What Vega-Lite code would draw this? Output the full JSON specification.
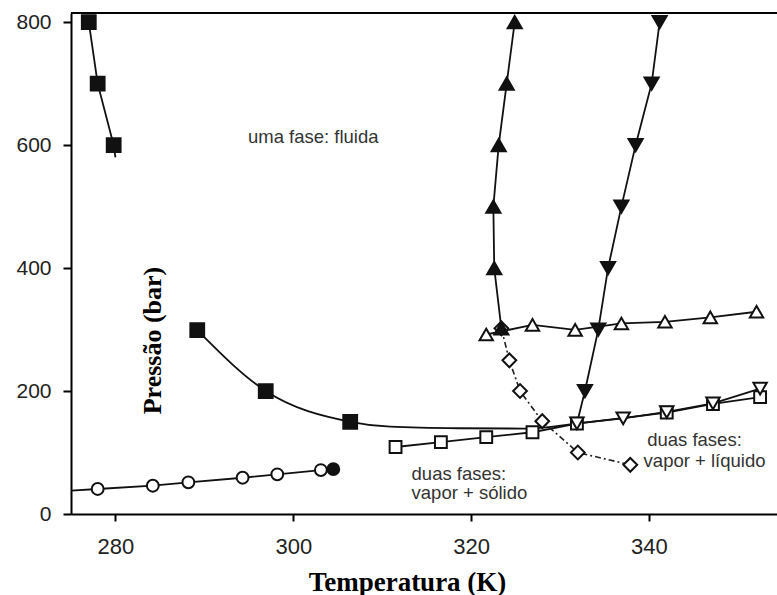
{
  "$schema": "https://vega.github.io/schema/vega-lite/v6.json",
  "width": 706,
  "height": 501,
  "autosize": {"type": "none"},
  "padding": {"left": 71, "top": 13, "right": 0, "bottom": 81},
  "background": "white",
  "config": {
    "view": {"stroke": null},
    "axis": {"grid": false},
    "point": {"filled": true, "opacity": 1, "stroke": "#111", "strokeWidth": 2}
  },
  "datasets": {
    "tracados": [
      {"serie": "q_cheio_a", "T": 277.0, "P": 800},
      {"serie": "q_cheio_a", "T": 278.0, "P": 700},
      {"serie": "q_cheio_a", "T": 279.8, "P": 600},
      {"serie": "q_cheio_a", "T": 280.0, "P": 580},
      {"serie": "curva", "T": 289.2, "P": 299},
      {"serie": "curva", "T": 296.9, "P": 200},
      {"serie": "curva", "T": 306.4, "P": 150},
      {"serie": "curva", "T": 310.9, "P": 142},
      {"serie": "curva", "T": 318.6, "P": 139.5},
      {"serie": "curva", "T": 326.0, "P": 139},
      {"serie": "curva", "T": 331.9, "P": 147.5},
      {"serie": "c_aberto", "T": 275.0, "P": 38},
      {"serie": "c_aberto", "T": 278.0, "P": 40.7},
      {"serie": "c_aberto", "T": 284.2, "P": 46},
      {"serie": "c_aberto", "T": 288.2, "P": 51.5},
      {"serie": "c_aberto", "T": 294.3, "P": 59},
      {"serie": "c_aberto", "T": 298.2, "P": 64.5},
      {"serie": "c_aberto", "T": 303.1, "P": 71.5},
      {"serie": "c_aberto", "T": 304.5, "P": 73},
      {"serie": "q_aberto", "T": 311.5, "P": 109},
      {"serie": "q_aberto", "T": 316.6, "P": 117},
      {"serie": "q_aberto", "T": 321.7, "P": 125},
      {"serie": "q_aberto", "T": 326.9, "P": 133},
      {"serie": "q_aberto", "T": 331.9, "P": 147},
      {"serie": "q_aberto", "T": 342.0, "P": 165},
      {"serie": "q_aberto", "T": 347.2, "P": 179},
      {"serie": "q_aberto", "T": 352.5, "P": 190},
      {"serie": "t_cheio", "T": 324.9, "P": 800},
      {"serie": "t_cheio", "T": 324.0, "P": 700},
      {"serie": "t_cheio", "T": 323.1, "P": 600},
      {"serie": "t_cheio", "T": 322.5, "P": 500},
      {"serie": "t_cheio", "T": 322.6, "P": 400},
      {"serie": "t_cheio", "T": 323.4, "P": 302},
      {"serie": "tinv_cheio", "T": 341.2, "P": 800},
      {"serie": "tinv_cheio", "T": 340.3, "P": 700},
      {"serie": "tinv_cheio", "T": 338.5, "P": 600},
      {"serie": "tinv_cheio", "T": 336.9, "P": 500},
      {"serie": "tinv_cheio", "T": 335.4, "P": 400},
      {"serie": "tinv_cheio", "T": 334.3, "P": 300},
      {"serie": "tinv_cheio", "T": 332.8, "P": 200},
      {"serie": "tinv_cheio", "T": 331.9, "P": 147.5},
      {"serie": "t_aberto", "T": 321.7, "P": 292},
      {"serie": "t_aberto", "T": 326.9, "P": 307.6},
      {"serie": "t_aberto", "T": 331.7, "P": 299.5},
      {"serie": "t_aberto", "T": 336.9, "P": 310},
      {"serie": "t_aberto", "T": 341.8, "P": 312.7},
      {"serie": "t_aberto", "T": 346.9, "P": 319.8},
      {"serie": "t_aberto", "T": 352.1, "P": 329},
      {"serie": "tinv_aberto", "T": 331.9, "P": 147.5},
      {"serie": "tinv_aberto", "T": 337.1, "P": 155.6},
      {"serie": "tinv_aberto", "T": 342.0, "P": 166},
      {"serie": "tinv_aberto", "T": 347.2, "P": 180},
      {"serie": "tinv_aberto", "T": 352.5, "P": 204},
      {"serie": "losango", "T": 323.4, "P": 302},
      {"serie": "losango", "T": 324.3, "P": 250},
      {"serie": "losango", "T": 325.5, "P": 200},
      {"serie": "losango", "T": 328.0, "P": 151},
      {"serie": "losango", "T": 332.0, "P": 100},
      {"serie": "losango", "T": 337.9, "P": 80}
    ],
    "pontos": [
      {"serie": "losango", "T": 323.4, "P": 302},
      {"serie": "losango", "T": 324.3, "P": 250},
      {"serie": "losango", "T": 325.5, "P": 200},
      {"serie": "losango", "T": 328.0, "P": 151},
      {"serie": "losango", "T": 332.0, "P": 100},
      {"serie": "losango", "T": 337.9, "P": 80},
      {"serie": "q_cheio", "T": 277.0, "P": 800},
      {"serie": "q_cheio", "T": 278.0, "P": 700},
      {"serie": "q_cheio", "T": 279.8, "P": 600},
      {"serie": "q_cheio", "T": 289.2, "P": 299},
      {"serie": "q_cheio", "T": 296.9, "P": 200},
      {"serie": "q_cheio", "T": 306.4, "P": 150},
      {"serie": "c_aberto", "T": 278.0, "P": 40.7},
      {"serie": "c_aberto", "T": 284.2, "P": 46},
      {"serie": "c_aberto", "T": 288.2, "P": 51.5},
      {"serie": "c_aberto", "T": 294.3, "P": 59},
      {"serie": "c_aberto", "T": 298.2, "P": 64.5},
      {"serie": "c_aberto", "T": 303.1, "P": 71.5},
      {"serie": "c_cheio", "T": 304.5, "P": 73},
      {"serie": "q_aberto", "T": 311.5, "P": 109},
      {"serie": "q_aberto", "T": 316.6, "P": 117},
      {"serie": "q_aberto", "T": 321.7, "P": 125},
      {"serie": "q_aberto", "T": 326.9, "P": 133},
      {"serie": "q_aberto", "T": 331.9, "P": 147},
      {"serie": "q_aberto", "T": 342.0, "P": 165},
      {"serie": "q_aberto", "T": 347.2, "P": 179},
      {"serie": "q_aberto", "T": 352.5, "P": 190},
      {"serie": "t_aberto", "T": 321.7, "P": 292},
      {"serie": "t_aberto", "T": 326.9, "P": 307.6},
      {"serie": "t_aberto", "T": 331.7, "P": 299.5},
      {"serie": "t_aberto", "T": 336.9, "P": 310},
      {"serie": "t_aberto", "T": 341.8, "P": 312.7},
      {"serie": "t_aberto", "T": 346.9, "P": 319.8},
      {"serie": "t_aberto", "T": 352.1, "P": 329},
      {"serie": "tinv_aberto", "T": 331.9, "P": 147.5},
      {"serie": "tinv_aberto", "T": 337.1, "P": 155.6},
      {"serie": "tinv_aberto", "T": 342.0, "P": 166},
      {"serie": "tinv_aberto", "T": 347.2, "P": 180},
      {"serie": "tinv_aberto", "T": 352.5, "P": 204},
      {"serie": "t_cheio", "T": 324.9, "P": 800},
      {"serie": "t_cheio", "T": 324.0, "P": 700},
      {"serie": "t_cheio", "T": 323.1, "P": 600},
      {"serie": "t_cheio", "T": 322.5, "P": 500},
      {"serie": "t_cheio", "T": 322.6, "P": 400},
      {"serie": "t_cheio", "T": 323.4, "P": 302},
      {"serie": "tinv_cheio", "T": 341.2, "P": 800},
      {"serie": "tinv_cheio", "T": 340.3, "P": 700},
      {"serie": "tinv_cheio", "T": 338.5, "P": 600},
      {"serie": "tinv_cheio", "T": 336.9, "P": 500},
      {"serie": "tinv_cheio", "T": 335.4, "P": 400},
      {"serie": "tinv_cheio", "T": 334.3, "P": 300},
      {"serie": "tinv_cheio", "T": 332.8, "P": 200}
    ],
    "rotulos": [
      {"T": 294.9, "P": 603, "texto": "uma fase: fluida"},
      {"T": 313.3, "P": 56, "texto": "duas fases:"},
      {"T": 313.3, "P": 25, "texto": "vapor + sólido"},
      {"T": 339.8, "P": 111, "texto": "duas fases:"},
      {"T": 339.4, "P": 77, "texto": "vapor + líquido"}
    ]
  },
  "layer": [
    {
      "data": {"name": "tracados"},
      "transform": [{"filter": {"field": "serie", "oneOf": ["q_cheio_a", "c_aberto", "q_aberto", "t_aberto", "tinv_aberto", "tinv_cheio"]}}],
      "mark": {"type": "line", "color": "#111", "strokeWidth": 1.8},
      "encoding": {
        "x": {
          "field": "T", "type": "quantitative", "title": "Temperatura (K)",
          "scale": {"domain": [275, 354.4], "nice": false, "zero": false},
          "axis": {
            "values": [280, 300, 320, 340],
            "domainColor": "black", "domainWidth": 2,
            "tickColor": "black", "tickWidth": 2, "tickSize": 7,
            "labelFont": "Liberation Sans", "labelFontSize": 22, "labelColor": "#222",
            "labelPadding": 15, "labelFlush": false,
            "titleFont": "Liberation Serif", "titleFontWeight": "bold", "titleFontSize": 27,
            "titleColor": "black", "titleX": 336, "titleY": 76,
            "titleAlign": "center", "titleBaseline": "alphabetic"
          }
        },
        "y": {
          "field": "P", "type": "quantitative", "title": "Pressão (bar)",
          "scale": {"domain": [0, 815], "nice": false, "zero": false},
          "axis": {
            "values": [0, 200, 400, 600, 800],
            "domainColor": "black", "domainWidth": 2,
            "tickColor": "black", "tickWidth": 2, "tickSize": 8,
            "labelFont": "Liberation Sans", "labelFontSize": 21, "labelColor": "#222",
            "labelPadding": 12, "labelFlush": false,
            "titleFont": "Liberation Serif", "titleFontWeight": "bold", "titleFontSize": 26,
            "titleColor": "black", "titleAngle": -90, "titleX": 89, "titleY": 327,
            "titleAlign": "center", "titleBaseline": "alphabetic"
          }
        },
        "detail": {"field": "serie"}
      }
    },
    {
      "data": {"name": "tracados"},
      "transform": [{"filter": {"field": "serie", "equal": "t_cheio"}}],
      "mark": {"type": "line", "color": "#111", "strokeWidth": 1.8},
      "encoding": {
        "x": {"field": "T", "type": "quantitative", "title": "Temperatura (K)", "scale": {"domain": [275, 354.4], "nice": false, "zero": false}},
        "y": {"field": "P", "type": "quantitative", "title": "Pressão (bar)", "scale": {"domain": [0, 815], "nice": false, "zero": false}},
        "order": {"field": "P", "type": "quantitative"}
      }
    },
    {
      "data": {"name": "tracados"},
      "transform": [{"filter": {"field": "serie", "equal": "curva"}}],
      "mark": {"type": "line", "color": "#111", "strokeWidth": 1.8, "interpolate": "monotone"},
      "encoding": {
        "x": {"field": "T", "type": "quantitative", "title": "Temperatura (K)", "scale": {"domain": [275, 354.4], "nice": false, "zero": false}},
        "y": {"field": "P", "type": "quantitative", "title": "Pressão (bar)", "scale": {"domain": [0, 815], "nice": false, "zero": false}}
      }
    },
    {
      "data": {"name": "tracados"},
      "transform": [{"filter": {"field": "serie", "equal": "losango"}}],
      "mark": {"type": "line", "color": "#222", "strokeWidth": 1.6, "strokeDash": [6, 3, 2, 3]},
      "encoding": {
        "x": {"field": "T", "type": "quantitative", "title": "Temperatura (K)", "scale": {"domain": [275, 354.4], "nice": false, "zero": false}},
        "y": {"field": "P", "type": "quantitative", "title": "Pressão (bar)", "scale": {"domain": [0, 815], "nice": false, "zero": false}}
      }
    },
    {
      "data": {"name": "pontos"},
      "transform": [{"filter": {"field": "serie", "equal": "losango"}}],
      "mark": {"type": "point", "shape": "M-1,0L0,-1L1,0L0,1Z", "size": 190, "fill": "white"},
      "encoding": {
        "x": {"field": "T", "type": "quantitative", "title": "Temperatura (K)", "scale": {"domain": [275, 354.4], "nice": false, "zero": false}},
        "y": {"field": "P", "type": "quantitative", "title": "Pressão (bar)", "scale": {"domain": [0, 815], "nice": false, "zero": false}}
      }
    },
    {
      "data": {"name": "pontos"},
      "transform": [{"filter": {"field": "serie", "equal": "q_cheio"}}],
      "mark": {"type": "point", "shape": "square", "size": 190, "fill": "#111"},
      "encoding": {
        "x": {"field": "T", "type": "quantitative", "title": "Temperatura (K)", "scale": {"domain": [275, 354.4], "nice": false, "zero": false}},
        "y": {"field": "P", "type": "quantitative", "title": "Pressão (bar)", "scale": {"domain": [0, 815], "nice": false, "zero": false}}
      }
    },
    {
      "data": {"name": "pontos"},
      "transform": [{"filter": {"field": "serie", "equal": "c_aberto"}}],
      "mark": {"type": "point", "shape": "circle", "size": 140, "fill": "white"},
      "encoding": {
        "x": {"field": "T", "type": "quantitative", "title": "Temperatura (K)", "scale": {"domain": [275, 354.4], "nice": false, "zero": false}},
        "y": {"field": "P", "type": "quantitative", "title": "Pressão (bar)", "scale": {"domain": [0, 815], "nice": false, "zero": false}}
      }
    },
    {
      "data": {"name": "pontos"},
      "transform": [{"filter": {"field": "serie", "equal": "c_cheio"}}],
      "mark": {"type": "point", "shape": "circle", "size": 140, "fill": "#111"},
      "encoding": {
        "x": {"field": "T", "type": "quantitative", "title": "Temperatura (K)", "scale": {"domain": [275, 354.4], "nice": false, "zero": false}},
        "y": {"field": "P", "type": "quantitative", "title": "Pressão (bar)", "scale": {"domain": [0, 815], "nice": false, "zero": false}}
      }
    },
    {
      "data": {"name": "pontos"},
      "transform": [{"filter": {"field": "serie", "equal": "q_aberto"}}],
      "mark": {"type": "point", "shape": "square", "size": 140, "fill": "white"},
      "encoding": {
        "x": {"field": "T", "type": "quantitative", "title": "Temperatura (K)", "scale": {"domain": [275, 354.4], "nice": false, "zero": false}},
        "y": {"field": "P", "type": "quantitative", "title": "Pressão (bar)", "scale": {"domain": [0, 815], "nice": false, "zero": false}}
      }
    },
    {
      "data": {"name": "pontos"},
      "transform": [{"filter": {"field": "serie", "equal": "t_aberto"}}],
      "mark": {"type": "point", "shape": "triangle-up", "size": 180, "fill": "white"},
      "encoding": {
        "x": {"field": "T", "type": "quantitative", "title": "Temperatura (K)", "scale": {"domain": [275, 354.4], "nice": false, "zero": false}},
        "y": {"field": "P", "type": "quantitative", "title": "Pressão (bar)", "scale": {"domain": [0, 815], "nice": false, "zero": false}}
      }
    },
    {
      "data": {"name": "pontos"},
      "transform": [{"filter": {"field": "serie", "equal": "tinv_aberto"}}],
      "mark": {"type": "point", "shape": "triangle-down", "size": 180, "fill": "white"},
      "encoding": {
        "x": {"field": "T", "type": "quantitative", "title": "Temperatura (K)", "scale": {"domain": [275, 354.4], "nice": false, "zero": false}},
        "y": {"field": "P", "type": "quantitative", "title": "Pressão (bar)", "scale": {"domain": [0, 815], "nice": false, "zero": false}}
      }
    },
    {
      "data": {"name": "pontos"},
      "transform": [{"filter": {"field": "serie", "equal": "t_cheio"}}],
      "mark": {"type": "point", "shape": "triangle-up", "size": 200, "fill": "#111"},
      "encoding": {
        "x": {"field": "T", "type": "quantitative", "title": "Temperatura (K)", "scale": {"domain": [275, 354.4], "nice": false, "zero": false}},
        "y": {"field": "P", "type": "quantitative", "title": "Pressão (bar)", "scale": {"domain": [0, 815], "nice": false, "zero": false}}
      }
    },
    {
      "data": {"name": "pontos"},
      "transform": [{"filter": {"field": "serie", "equal": "tinv_cheio"}}],
      "mark": {"type": "point", "shape": "triangle-down", "size": 200, "fill": "#111"},
      "encoding": {
        "x": {"field": "T", "type": "quantitative", "title": "Temperatura (K)", "scale": {"domain": [275, 354.4], "nice": false, "zero": false}},
        "y": {"field": "P", "type": "quantitative", "title": "Pressão (bar)", "scale": {"domain": [0, 815], "nice": false, "zero": false}}
      }
    },
    {
      "data": {"name": "rotulos"},
      "mark": {"type": "text", "align": "left", "baseline": "alphabetic", "font": "Liberation Sans", "fontSize": 18.5, "color": "#333"},
      "encoding": {
        "x": {"field": "T", "type": "quantitative", "title": "Temperatura (K)", "scale": {"domain": [275, 354.4], "nice": false, "zero": false}},
        "y": {"field": "P", "type": "quantitative", "title": "Pressão (bar)", "scale": {"domain": [0, 815], "nice": false, "zero": false}},
        "text": {"field": "texto"}
      }
    },
    {
      "data": {"values": [{}]},
      "mark": {"type": "rule", "color": "black", "strokeWidth": 2},
      "encoding": {
        "y": {"datum": 815, "type": "quantitative", "title": "Pressão (bar)", "scale": {"domain": [0, 815], "nice": false, "zero": false}}
      }
    }
  ]
}
